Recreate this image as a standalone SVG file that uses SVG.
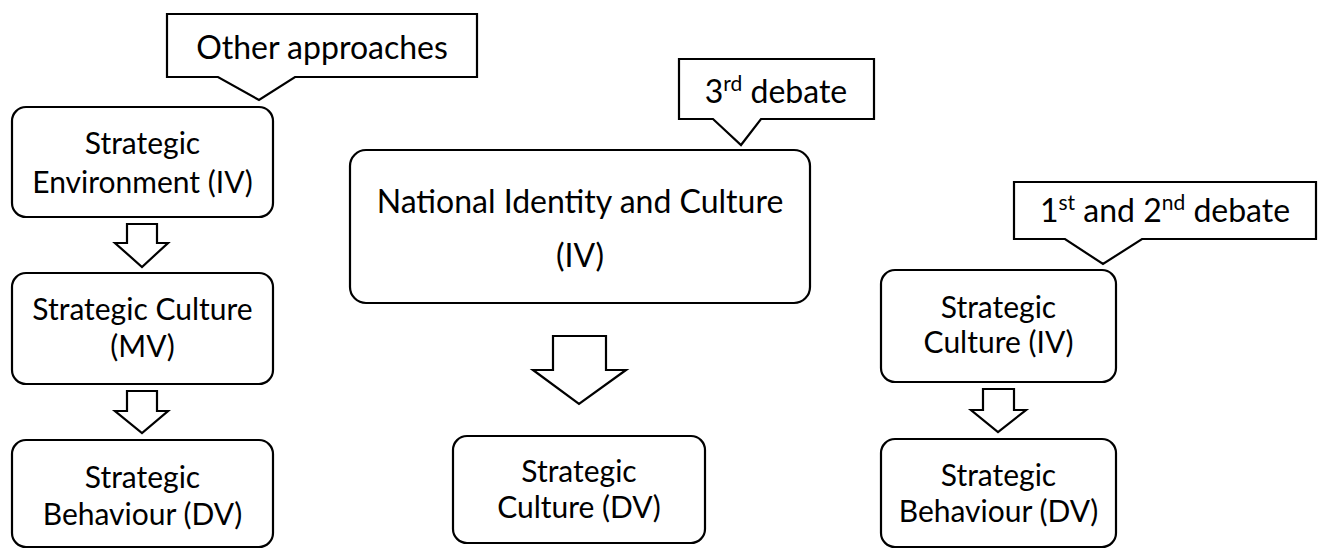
<svg xmlns="http://www.w3.org/2000/svg" width="1325" height="549" viewBox="0 0 1325 549">
<style>
.box{fill:#fff;stroke:#000;stroke-width:2.2}
.co{fill:#fff;stroke:#000;stroke-width:2.2;stroke-linejoin:miter}
.arr{fill:#fff;stroke:#000;stroke-width:2.2;stroke-linejoin:miter}
text{font-family:Lato,"Liberation Sans",sans-serif;font-size:30px;fill:#000;text-anchor:middle}
.big{font-size:32px}
.sup{font-size:21px}
</style>
<rect width="1325" height="549" fill="#fff"/>
<g id="callout-other">
<path class="co" d="M167,14 H477 V77 H295 L259,100 L218,77 H167 Z"/>
<text class="big" x="322" y="59">Other approaches</text>
</g>
<g id="callout-3rd">
<path class="co" d="M679,59 H874 V119 H761 L741,145 L713,119 H679 Z"/>
<text class="big" x="776" y="103">3<tspan class="sup" dy="-12">rd</tspan><tspan dy="12"> debate</tspan></text>
</g>
<g id="callout-1st2nd">
<path class="co" d="M1014,182 H1316 V239 H1142 L1103,264 L1065,239 H1014 Z"/>
<text class="big" x="1165" y="222">1<tspan class="sup" dy="-12">st</tspan><tspan dy="12"> and 2</tspan><tspan class="sup" dy="-12">nd</tspan><tspan dy="12"> debate</tspan></text>
</g>
<g id="node-env">
<rect class="box" x="12" y="107" width="261" height="110" rx="14"/>
<text x="142.5" y="154">Strategic</text>
<text x="142.5" y="193">Environment (IV)</text>
</g>
<g id="node-sc-mv">
<rect class="box" x="12" y="273" width="261" height="111" rx="14"/>
<text x="142.5" y="320">Strategic Culture</text>
<text x="142.5" y="357">(MV)</text>
</g>
<g id="node-sb-left">
<rect class="box" x="12" y="440" width="261" height="107" rx="14"/>
<text x="142.5" y="488">Strategic</text>
<text x="142.5" y="525">Behaviour (DV)</text>
</g>
<g id="node-nic">
<rect class="box" x="350" y="150" width="460" height="153" rx="16"/>
<text class="big" x="580" y="213">National Identity and Culture</text>
<text class="big" x="580" y="267">(IV)</text>
</g>
<g id="node-sc-dv">
<rect class="box" x="453" y="436" width="252" height="107" rx="14"/>
<text x="579" y="482">Strategic</text>
<text x="579" y="518">Culture (DV)</text>
</g>
<g id="node-sc-iv">
<rect class="box" x="881" y="270" width="235" height="112" rx="14"/>
<text x="998.5" y="318">Strategic</text>
<text x="998.5" y="353">Culture (IV)</text>
</g>
<g id="node-sb-right">
<rect class="box" x="881" y="439" width="235" height="108" rx="14"/>
<text x="998.5" y="486">Strategic</text>
<text x="998.5" y="522">Behaviour (DV)</text>
</g>
<g id="connectors">
<path class="arr" d="M127,224 H157 V243 H168 L142,267 L115,243 H127 Z"/>
<path class="arr" d="M127,391 H157 V411 H168 L142,433 L115,411 H127 Z"/>
<path class="arr" d="M553,336 H606 V370 H626 L579,404 L533,370 H553 Z"/>
<path class="arr" d="M983,389 H1014 V410 H1026 L998,432 L971,410 H983 Z"/>
</g>
</svg>
